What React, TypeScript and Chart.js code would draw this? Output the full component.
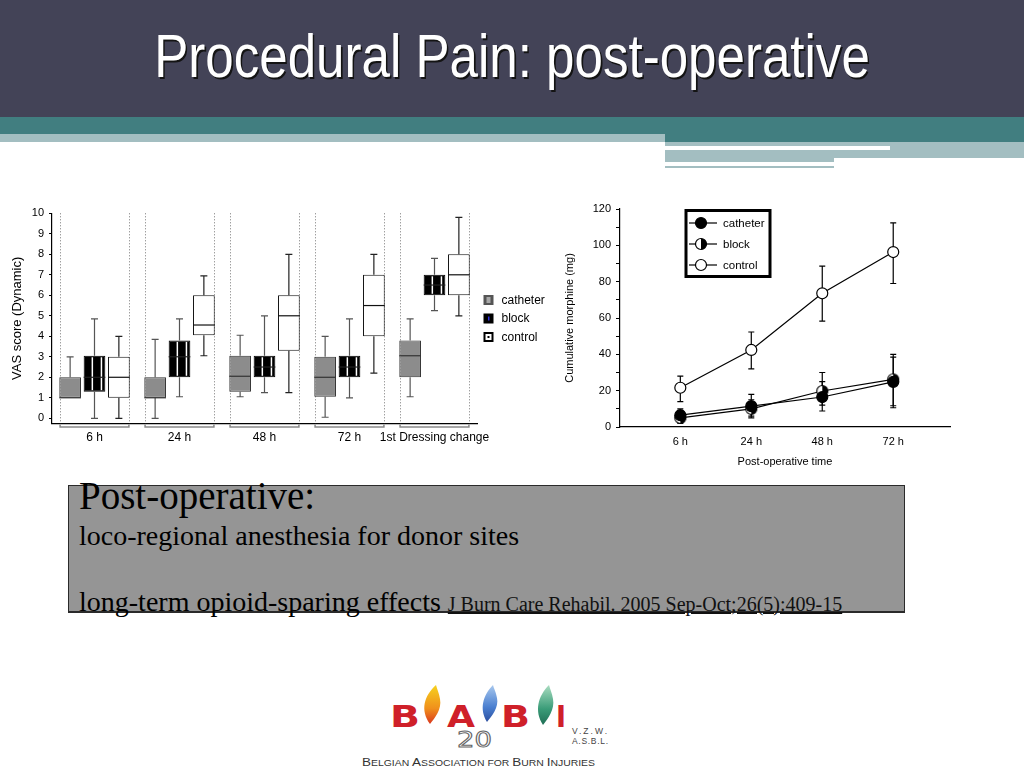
import React, { useEffect, useRef } from 'react';
import { Chart, registerables } from 'chart.js';

Chart.register(...registerables);

// ---------- Left chart: VAS score box plots ----------
const boxCategories = ['6 h', '24 h', '48 h', '72 h', '1st Dressing change'];
const vasTicks = [0, 1, 2, 3, 4, 5, 6, 7, 8, 9, 10];

const catheterMin = [1, 0, 1.05, 0.05, 1.05];
const catheterQ1 = [1, 1, 1.3, 1.05, 2];
const catheterMedian = [1, 1, 2.05, 2, 3.05];
const catheterQ3 = [2, 2, 3.05, 3, 3.8];
const catheterMax = [3, 3.85, 4.05, 4, 4.85];

const blockMin = [0, 1.05, 1.25, 1.0, 5.25];
const blockQ1 = [1.3, 2, 2, 2, 6];
const blockMedian = [2, 3, 2.5, 2.5, 6.5];
const blockQ3 = [3.05, 3.8, 3.05, 3.05, 7];
const blockMax = [4.85, 4.85, 5.0, 4.85, 7.8];

const controlMin = [0, 3.05, 1.25, 2.2, 5.0];
const controlQ1 = [1, 4.05, 3.3, 4.0, 6.0];
const controlMedian = [2, 4.55, 5.0, 5.5, 7.0];
const controlQ3 = [3, 6.0, 6.0, 7.0, 8.0];
const controlMax = [4, 6.95, 8.0, 8.0, 9.8];

// ---------- Right chart: cumulative morphine ----------
const timeCategories = ['6 h', '24 h', '48 h', '72 h'];
const morphineTicksMajor = [0, 20, 40, 60, 80, 100, 120];
const catheterMorphine = [6.5, 11.5, 16.5, 24.8];
const catheterUpper = [10, 18, 25, 38.5];
const catheterLower = [3, 5, 8.8, 10.6];
const blockMorphine = [5, 10, 19.8, 26.2];
const blockUpper = [9, 15, 30, 40];
const blockLower = [2, 6, 12, 11.7];
const controlMorphine = [21.6, 42.4, 73.6, 96.3];
const controlUpper = [28, 52.3, 88.6, 112.4];
const controlLower = [14, 32, 58.3, 79];

const FONT = "'Liberation Sans', Arial, Helvetica, sans-serif";

function makeHalfPoint(r: number) {
  const c = document.createElement('canvas');
  const s = Math.ceil(r * 2 + 3);
  c.width = s;
  c.height = s;
  const g = c.getContext('2d')!;
  const m = s / 2;
  g.fillStyle = '#fff';
  g.beginPath();
  g.arc(m, m, r, 0, Math.PI * 2);
  g.fill();
  g.fillStyle = '#000';
  g.beginPath();
  g.arc(m, m, r, -Math.PI / 2, Math.PI / 2);
  g.closePath();
  g.fill();
  g.strokeStyle = '#000';
  g.lineWidth = 1.2;
  g.beginPath();
  g.arc(m, m, r, 0, Math.PI * 2);
  g.stroke();
  return c;
}

export default function App() {
  const leftRef = useRef<HTMLCanvasElement>(null);
  const rightRef = useRef<HTMLCanvasElement>(null);

  useEffect(() => {
    document.body.style.margin = '0';
    Chart.defaults.font.family = FONT;
    Chart.defaults.color = '#000';

    const boxStats = [
      { label: 'catheter', min: catheterMin, q1: catheterQ1, med: catheterMedian, q3: catheterQ3, max: catheterMax, fill: '#8c8c8c', border: '#333', whisker: '#555', median: '#333' },
      { label: 'block', min: blockMin, q1: blockQ1, med: blockMedian, q3: blockQ3, max: blockMax, fill: '#000', border: '#000', whisker: '#555', median: '#222' },
      { label: 'control', min: controlMin, q1: controlQ1, med: controlMedian, q3: controlQ3, max: controlMax, fill: '#fff', border: '#111', whisker: '#222', median: '#111' },
    ];

    const boxPlugin = {
      id: 'boxExtras',
      beforeDatasetsDraw(chart: any) {
        const { ctx, chartArea, scales } = chart;
        const x = scales.x;
        const y = scales.y;
        const step = (chartArea.right - chartArea.left) / boxCategories.length;
        ctx.save();
        boxCategories.forEach((_, i) => {
          const cx = x.getPixelForValue(i);
          const l = cx - step * 0.405;
          const r = cx + step * 0.405;
          const yt = y.getPixelForValue(10);
          ctx.setLineDash([1, 2]);
          ctx.strokeStyle = '#777';
          ctx.lineWidth = 1;
          [l, r].forEach((px) => {
            ctx.beginPath();
            ctx.moveTo(Math.round(px) + 0.5, yt);
            ctx.lineTo(Math.round(px) + 0.5, chartArea.bottom);
            ctx.stroke();
          });
          ctx.setLineDash([]);
          ctx.strokeStyle = '#8a8a8a';
          ctx.lineWidth = 1.5;
          const by = chartArea.bottom + 3.5;
          ctx.beginPath();
          ctx.moveTo(l, by - 2.5);
          ctx.lineTo(l, by);
          ctx.lineTo(r, by);
          ctx.lineTo(r, by - 2.5);
          ctx.stroke();
        });
        ctx.restore();
      },
      afterDatasetsDraw(chart: any) {
        const { ctx, scales } = chart;
        const y = scales.y;
        ctx.save();
        boxStats.forEach((s, d) => {
          const meta = chart.getDatasetMeta(d);
          meta.data.forEach((bar: any, i: number) => {
            const { x: bx, width } = bar.getProps(['x', 'width'], true);
            const yMin = y.getPixelForValue(s.min[i]);
            const yQ1 = y.getPixelForValue(s.q1[i]);
            const yMed = y.getPixelForValue(s.med[i]);
            const yQ3 = y.getPixelForValue(s.q3[i]);
            const yMax = y.getPixelForValue(s.max[i]);
            ctx.strokeStyle = s.whisker;
            ctx.lineWidth = 1.2;
            if (s.max[i] > s.q3[i]) {
              ctx.beginPath();
              ctx.moveTo(bx, yQ3);
              ctx.lineTo(bx, yMax);
              ctx.moveTo(bx - 3.5, yMax);
              ctx.lineTo(bx + 3.5, yMax);
              ctx.stroke();
            }
            if (s.min[i] < s.q1[i]) {
              ctx.beginPath();
              ctx.moveTo(bx, yQ1);
              ctx.lineTo(bx, yMin);
              ctx.moveTo(bx - 3.5, yMin);
              ctx.lineTo(bx + 3.5, yMin);
              ctx.stroke();
            }
            if (d === 1) {
              ctx.strokeStyle = '#fff';
              ctx.lineWidth = 1.5;
              [0.4, 0.82].forEach((f) => {
                const px = bx - width / 2 + width * f;
                ctx.beginPath();
                ctx.moveTo(px, yQ3 + 1.5);
                ctx.lineTo(px, yQ1 - 1.5);
                ctx.stroke();
              });
            }
            ctx.strokeStyle = s.median;
            ctx.lineWidth = 1.2;
            ctx.beginPath();
            ctx.moveTo(bx - width / 2, yMed);
            ctx.lineTo(bx + width / 2, yMed);
            ctx.stroke();
          });
        });
        ctx.restore();
      },
      afterDraw(chart: any) {
        const { ctx, chartArea } = chart;
        const lx = chartArea.right + 6.5;
        ctx.save();
        ctx.font = `12px ${FONT}`;
        ctx.textBaseline = 'middle';
        ctx.fillStyle = '#000';
        boxStats.forEach((s, k) => {
          const cy = chartArea.top + 86.7 + k * 18.5;
          const sx = lx;
          const sy = cy - 5;
          if (k === 0) {
            ctx.fillStyle = '#555';
            ctx.fillRect(sx, sy, 10, 10);
            ctx.fillStyle = '#a8a8a8';
            ctx.fillRect(sx + 3, sy + 2, 4, 6);
          } else if (k === 1) {
            ctx.fillStyle = '#000';
            ctx.fillRect(sx, sy, 10, 10);
            ctx.fillStyle = '#33d';
            ctx.fillRect(sx + 4.5, sy + 3, 1.5, 4);
          } else {
            ctx.fillStyle = '#000';
            ctx.fillRect(sx, sy, 10, 10);
            ctx.fillStyle = '#fff';
            ctx.fillRect(sx + 2, sy + 2, 6, 6);
            ctx.fillStyle = '#000';
            ctx.fillRect(sx + 4, sy + 4, 2, 2);
          }
          ctx.fillStyle = '#000';
          ctx.fillText(s.label, lx + 18, cy + 0.5);
        });
        ctx.restore();
      },
    };

    const left = new Chart(leftRef.current!, {
      type: 'bar',
      data: {
        labels: boxCategories,
        datasets: boxStats.map((s) => ({
          label: s.label,
          data: s.q1.map((v, i) => [v, s.q3[i]]),
          backgroundColor: s.fill,
          borderColor: s.border,
          borderWidth: 1,
          borderSkipped: false,
          categoryPercentage: 0.86,
          barPercentage: 0.89,
        })) as any,
      },
      options: {
        responsive: false,
        animation: false,
        layout: { padding: { left: 0, right: 83, top: 18.3, bottom: 0 } },
        plugins: { legend: { display: false }, tooltip: { enabled: false } },
        scales: {
          x: {
            type: 'category',
            grid: { display: true, drawOnChartArea: false, drawTicks: false, color: '#000' },
            border: { display: true, color: '#000', width: 1.2 },
            ticks: { padding: 7.4, font: { size: 12 }, color: '#000', autoSkip: false, maxRotation: 0 },
            afterFit: (scale: any) => { scale.height = 36.6; },
          },
          y: {
            type: 'linear',
            min: -0.25,
            max: 10,
            afterBuildTicks: (scale: any) => { scale.ticks = vasTicks.map((v) => ({ value: v })); },
            afterFit: (scale: any) => { scale.width = 52; },
            grid: { drawOnChartArea: false, drawTicks: true, tickLength: 3, color: '#000' },
            border: { display: true, color: '#000', width: 1.2 },
            ticks: { padding: 5, font: { size: 11 }, color: '#000' },
            title: { display: true, text: 'VAS score (Dynamic)', font: { size: 13 }, color: '#000', padding: { top: 10, bottom: 0 } },
          },
        },
      },
      plugins: [boxPlugin],
    } as any);

    const halfPoint = makeHalfPoint(5.5);
    const lineStats = [
      { label: 'catheter', values: catheterMorphine, upper: catheterUpper, lower: catheterLower, fill: '#000', style: 'circle' as any },
      { label: 'block', values: blockMorphine, upper: blockUpper, lower: blockLower, fill: '#000', style: halfPoint as any },
      { label: 'control', values: controlMorphine, upper: controlUpper, lower: controlLower, fill: '#fff', style: 'circle' as any },
    ];

    const errorPlugin = {
      id: 'errorBars',
      beforeDatasetsDraw(chart: any) {
        const { ctx, scales } = chart;
        ctx.save();
        ctx.strokeStyle = '#000';
        ctx.lineWidth = 1.2;
        lineStats.forEach((s) => {
          s.values.forEach((_, i) => {
            const px = scales.x.getPixelForValue(i);
            const yu = scales.y.getPixelForValue(s.upper[i]);
            const yl = scales.y.getPixelForValue(s.lower[i]);
            ctx.beginPath();
            ctx.moveTo(px, yu);
            ctx.lineTo(px, yl);
            ctx.moveTo(px - 3, yu);
            ctx.lineTo(px + 3, yu);
            ctx.moveTo(px - 3, yl);
            ctx.lineTo(px + 3, yl);
            ctx.stroke();
          });
        });
        ctx.restore();
      },
      afterDraw(chart: any) {
        const { ctx, chartArea } = chart;
        const bx = chartArea.left + 66;
        const by = chartArea.top + 1.5;
        const bw = 84;
        const bh = 66;
        ctx.save();
        ctx.fillStyle = '#fff';
        ctx.fillRect(bx, by, bw, bh);
        ctx.strokeStyle = '#000';
        ctx.lineWidth = 3;
        ctx.strokeRect(bx, by, bw, bh);
        ctx.font = `11.5px ${FONT}`;
        ctx.textBaseline = 'middle';
        lineStats.forEach((s, k) => {
          const cy = by + 12.5 + k * 21;
          const cx = bx + 15;
          ctx.strokeStyle = '#000';
          ctx.lineWidth = 1.2;
          ctx.beginPath();
          ctx.moveTo(bx + 3, cy);
          ctx.lineTo(bx + 31, cy);
          ctx.stroke();
          if (k === 1) {
            ctx.drawImage(halfPoint, cx - halfPoint.width / 2, cy - halfPoint.height / 2);
          } else {
            ctx.fillStyle = s.fill;
            ctx.beginPath();
            ctx.arc(cx, cy, 5.5, 0, Math.PI * 2);
            ctx.fill();
            ctx.stroke();
          }
          ctx.fillStyle = '#000';
          ctx.fillText(s.label, bx + 37, cy + 0.5);
        });
        ctx.restore();
      },
    };

    const right = new Chart(rightRef.current!, {
      type: 'line',
      data: {
        datasets: lineStats.map((s) => ({
          label: s.label,
          data: s.values.map((v, i) => ({ x: i, y: v })),
          borderColor: '#000',
          borderWidth: 1.2,
          tension: 0,
          pointStyle: s.style,
          pointRadius: 5.5,
          pointBorderWidth: 1.2,
          pointBackgroundColor: s.fill,
          pointBorderColor: '#000',
          clip: false,
        })) as any,
      },
      options: {
        responsive: false,
        animation: false,
        layout: { padding: { left: 0, right: 20, top: 14, bottom: 0 } },
        plugins: { legend: { display: false }, tooltip: { enabled: false } },
        scales: {
          x: {
            type: 'linear',
            min: -0.85,
            max: 3.8,
            afterBuildTicks: (scale: any) => { scale.ticks = timeCategories.map((_, i) => ({ value: i })); },
            afterFit: (scale: any) => { scale.height = 48; },
            grid: { display: true, drawOnChartArea: false, drawTicks: false, color: '#000' },
            border: { display: true, color: '#000', width: 1.2 },
            ticks: { padding: 8.4, font: { size: 11 }, color: '#000', callback: (v: any) => timeCategories[v] ?? '' },
            title: { display: true, text: 'Post-operative time', font: { size: 11 }, color: '#000', padding: { top: 0, bottom: 6.4 } },
          },
          y: {
            type: 'linear',
            min: 0,
            max: 120,
            afterFit: (scale: any) => { scale.width = 60; },
            grid: { drawOnChartArea: false, drawTicks: true, tickLength: 4, color: '#000' },
            border: { display: true, color: '#000', width: 1.2 },
            ticks: {
              stepSize: 10,
              autoSkip: false,
              padding: 5,
              font: { size: 11 },
              color: '#000',
              callback: (v: any) => (morphineTicksMajor.includes(v) ? String(v) : ''),
            },
            title: { display: true, text: 'Cumulative morphine (mg)', font: { size: 11 }, color: '#000', padding: { top: 3.4, bottom: 0 } },
          },
        },
      },
      plugins: [errorPlugin],
    } as any);

    return () => {
      left.destroy();
      right.destroy();
    };
  }, []);

  const abs = (l: number, t: number, w: number, h: number, bg: string): React.CSSProperties => ({
    position: 'absolute', left: l, top: t, width: w, height: h, background: bg,
  });

  return (
    <div style={{ position: 'absolute', left: 0, top: 0, width: 1024, height: 768, background: '#fff', overflow: 'hidden' }}>
      {/* header bands */}
      <div style={abs(0, 0, 1024, 117, '#434357')} />
      <div style={abs(0, 117, 1024, 17, '#417e80')} />
      <div style={abs(665, 134, 359, 8, '#417e80')} />
      <div style={abs(0, 134, 665, 8, '#a3bec1')} />
      <div style={abs(665, 142, 359, 16, '#a3bec1')} />
      <div style={abs(665, 145.7, 225, 4.3, '#fff')} />
      <div style={abs(665, 150, 169, 12, '#a3bec1')} />
      <div style={abs(665, 166, 169, 2, '#a3bec1')} />
      <div
        style={{
          position: 'absolute', left: 0, top: 24.5, width: 1024, textAlign: 'center',
          font: `62px ${FONT}`, lineHeight: '62px', color: '#fff', whiteSpace: 'nowrap',
          transform: 'scaleX(0.824)', transformOrigin: '512px 0', textShadow: '2px 2px 0 #141414',
        }}
      >
        Procedural Pain: post-operative
      </div>

      {/* charts */}
      <canvas ref={leftRef} width={560} height={265} style={{ position: 'absolute', left: 0, top: 195, width: 560, height: 265 }} />
      <canvas ref={rightRef} width={410} height={280} style={{ position: 'absolute', left: 560, top: 195, width: 410, height: 280 }} />

      {/* text box */}
      <div style={{ position: 'absolute', left: 68, top: 485, width: 837, height: 128, boxSizing: 'border-box', background: '#959595', border: '1px solid #2a2a2a', borderBottomWidth: 2 }} />
      <div style={{ position: 'absolute', left: 79, top: 476.3, font: "39px 'Liberation Serif', 'Times New Roman', serif", lineHeight: '39px', color: '#000', whiteSpace: 'nowrap' }}>
        Post-operative:
      </div>
      <div style={{ position: 'absolute', left: 79, top: 522.2, font: "28px 'Liberation Serif', 'Times New Roman', serif", lineHeight: '28px', color: '#000', whiteSpace: 'nowrap' }}>
        loco-regional anesthesia for donor sites
      </div>
      <div style={{ position: 'absolute', left: 79, top: 587.5, font: "28px 'Liberation Serif', 'Times New Roman', serif", lineHeight: '28px', color: '#000', whiteSpace: 'nowrap' }}>
        long-term opioid-sparing effects{' '}
        <span style={{ fontSize: 20, textDecoration: 'underline', color: '#111' }}>J Burn Care Rehabil. 2005 Sep-Oct;26(5):409-15</span>
      </div>

      {/* logo */}
      <svg style={{ position: 'absolute', left: 350, top: 680 }} width={280} height={88} viewBox="0 0 280 88">
        <defs>
          <linearGradient id="fl1" x1="0" y1="0" x2="0" y2="1">
            <stop offset="0" stopColor="#f6d21e" />
            <stop offset="0.6" stopColor="#f0901c" />
            <stop offset="1" stopColor="#d9371e" />
          </linearGradient>
          <linearGradient id="fl2" x1="0" y1="0" x2="0" y2="1">
            <stop offset="0" stopColor="#a8c8ee" />
            <stop offset="0.6" stopColor="#4a7fd0" />
            <stop offset="1" stopColor="#2c4fa0" />
          </linearGradient>
          <linearGradient id="fl3" x1="0" y1="0" x2="0" y2="1">
            <stop offset="0" stopColor="#a9dcc0" />
            <stop offset="0.6" stopColor="#3a9c78" />
            <stop offset="1" stopColor="#1f6e55" />
          </linearGradient>
          <linearGradient id="bel" x1="0" y1="0" x2="1" y2="0">
            <stop offset="0" stopColor="#111" />
            <stop offset="0.45" stopColor="#e8c230" />
            <stop offset="0.55" stopColor="#f0d040" />
            <stop offset="1" stopColor="#d0202a" />
          </linearGradient>
        </defs>
        <path d="M86 5 C74 16 70 30 80 44 C85 38 92 29 90 19 C89 13 87 9 86 5 Z" fill="url(#fl1)" />
        <path d="M143 5 C133 15 129 29 137 42 C142 36 149 27 147 18 C146 12 144 9 143 5 Z" fill="url(#fl2)" />
        <path d="M199 5 C188 16 184 31 193 45 C198 39 205 29 203 19 C202 13 200 9 199 5 Z" fill="url(#fl3)" />
        <g fill="#cf2029" fontFamily="'DejaVu Sans', sans-serif" fontWeight="bold" fontSize="31">
          <text x="40" y="47" textLength="30" lengthAdjust="spacingAndGlyphs">B</text>
          <text x="97" y="47" textLength="28" lengthAdjust="spacingAndGlyphs">A</text>
          <text x="151" y="47" textLength="29" lengthAdjust="spacingAndGlyphs">B</text>
          <text x="206" y="47" textLength="10" lengthAdjust="spacingAndGlyphs">I</text>
        </g>
        <line x1="40" y1="58.5" x2="217" y2="58.5" stroke="url(#bel)" strokeWidth="2" />
        <text x="107" y="67" textLength="35" lengthAdjust="spacingAndGlyphs" fontFamily="'DejaVu Sans', sans-serif" fontSize="22" fill="#fff" stroke="#666" strokeWidth="1">20</text>
        <text x="222" y="53.5" textLength="35" lengthAdjust="spacing" fontFamily={FONT} fontSize="8.5" fill="#444">V.Z.W.</text>
        <text x="222" y="63.5" textLength="36" lengthAdjust="spacing" fontFamily={FONT} fontSize="8.5" fill="#444">A.S.B.L.</text>
        <text x="12" y="86" textLength="233" lengthAdjust="spacingAndGlyphs" fontFamily={FONT} fontSize="8.5" fill="#333">
          <tspan fontSize="11">B</tspan>ELGIAN <tspan fontSize="11">A</tspan>SSOCIATION FOR <tspan fontSize="11">B</tspan>URN <tspan fontSize="11">I</tspan>NJURIES
        </text>
      </svg>
    </div>
  );
}
